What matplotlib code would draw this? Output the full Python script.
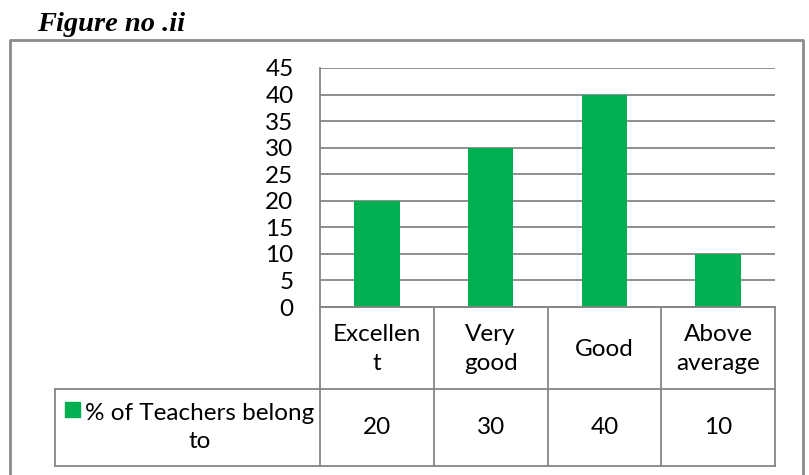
import matplotlib
matplotlib.use("Agg")
import matplotlib.pyplot as plt
from matplotlib.lines import Line2D
from matplotlib.patches import Rectangle

categories = ["Excellen\nt", "Very\ngood", "Good", "Above\naverage"]
values = [20, 30, 40, 10]
series_name = "% of Teachers belong\nto"
yticks = [0, 5, 10, 15, 20, 25, 30, 35, 40, 45]
title = "Figure no .ii"

W, H = 809, 475
fig = plt.figure(figsize=(W / 100, H / 100), dpi=100)
FONT = ["Lato", "DejaVu Sans"]
plt.rcParams["font.family"] = FONT
FS = 17.5

def fx(px):
    return px / W

def fy(py):
    return 1 - py / H

GREY = "#868686"
GREEN = "#00B050"

# axes: plot area
left, right, top, bottom = 320, 775, 68, 307
ax = fig.add_axes([fx(left), fy(bottom), fx(right) - fx(left), fy(top) - fy(bottom)])
x = list(range(len(values)))
ax.bar(x, values, width=0.4, color=GREEN, zorder=3)
ax.set_xlim(-0.5, len(values) - 0.5)
ax.set_ylim(0, 45)
ax.set_yticks(yticks)
ax.set_yticklabels([str(t) for t in yticks], fontsize=FS)
ax.set_xticks([])
ax.tick_params(axis="y", length=0, pad=19)
ax.yaxis.grid(True, color=GREY, linewidth=1.3, zorder=0)
for s in ["top", "right"]:
    ax.spines[s].set_visible(False)
for s in ["left", "bottom"]:
    ax.spines[s].set_color(GREY)
    ax.spines[s].set_linewidth(1.3)

# table drawn in figure pixel coordinates
row1, row2 = 389, 466
legend_left = 55
cat_w = (right - left) / len(values)

def hline(y, x0, x1):
    fig.add_artist(Line2D([fx(x0), fx(x1)], [fy(y), fy(y)], color=GREY, lw=1.3))

def vline(xp, y0, y1):
    fig.add_artist(Line2D([fx(xp), fx(xp)], [fy(y0), fy(y1)], color=GREY, lw=1.3))

hline(bottom, left, right)
hline(row1, legend_left, right)
hline(row2, legend_left, right)
for i in range(len(values) + 1):
    vline(left + i * cat_w, bottom, row2)
vline(legend_left, row1, row2)

LS = 1.45
for i, (c, v) in enumerate(zip(categories, values)):
    cx = left + (i + 0.5) * cat_w
    fig.text(fx(cx), fy((bottom + row1) / 2 + 1), c, ha="center", va="center",
             fontsize=FS, linespacing=LS)
    fig.text(fx(cx), fy((row1 + row2) / 2), str(v), ha="center", va="center",
             fontsize=FS)

# legend cell
fig.add_artist(Rectangle((fx(65), fy(417)), fx(15), fy(402) - fy(417),
                         color=GREEN, transform=fig.transFigure))
fig.text(fx(200), fy((row1 + row2) / 2), series_name, ha="center", va="center",
         fontsize=FS, linespacing=LS)

# outer border
fig.add_artist(Line2D([fx(10), fx(10), fx(803), fx(803)],
                      [fy(480), fy(39.5), fy(39.5), fy(480)], color="#8c8c8c", lw=2))

# title
fig.text(fx(37), fy(31), title, fontsize=20.5, fontweight="bold", fontstyle="italic",
         family=["Liberation Serif", "DejaVu Serif"], ha="left", va="baseline")

fig.savefig("out.png", dpi=100)
